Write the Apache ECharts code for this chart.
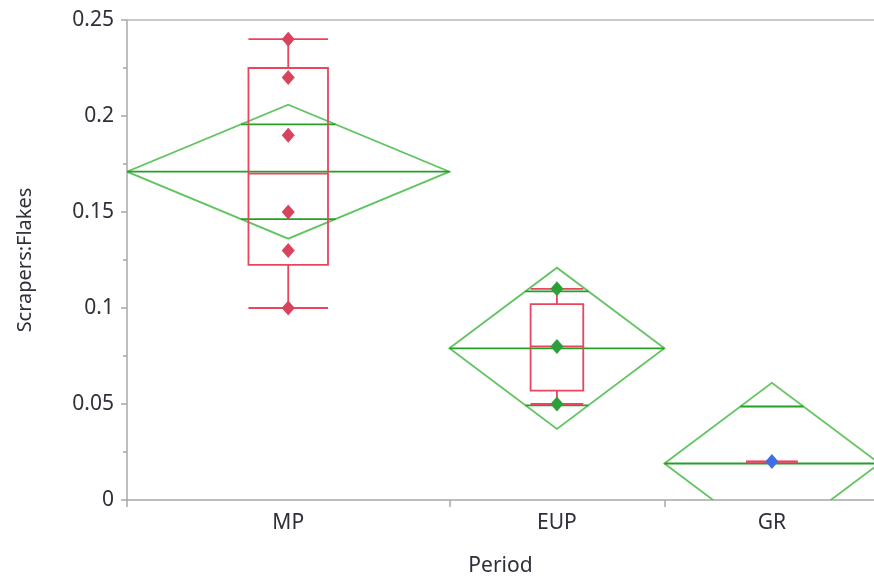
<!DOCTYPE html>
<html>
<head>
<meta charset="utf-8">
<script src="https://cdn.jsdelivr.net/npm/echarts@6/dist/echarts.min.js"></script>
<style>
  html, body { margin: 0; padding: 0; background: #ffffff; }
  #chart { width: 874px; height: 579px; }
</style>
</head>
<body>
<div id="chart"></div>
<script>
// Groups and their share of the horizontal axis
const categories = ['MP', 'EUP', 'GR'];
const groupWidths = [3, 2, 2];

// Observed ratios per period
const mpValues = [0.24, 0.22, 0.19, 0.15, 0.13, 0.10];
const eupValues = [0.11, 0.08, 0.05];
const grValues = [0.02];

// Means diamonds: group mean and half-width of the 95% interval
const groupMeans = [0.171, 0.079, 0.019];
const ciHalfWidths = [0.0349, 0.042, 0.042];

// Box plot summaries
const boxLow = [0.10, 0.05, 0.02];
const boxQ1 = [0.1225, 0.057, 0.02];
const boxMedian = [0.17, 0.08, 0.02];
const boxQ3 = [0.225, 0.102, 0.02];
const boxHigh = [0.24, 0.11, 0.02];
const boxWidths = [0.74, 0.49, 0.48];

// Y-axis ticks
const yTicks = { min: 0, max: 0.25, interval: 0.05 };

const pointColors = ['#d8435d', '#2e9e3a', '#3f6fe0'];
const boxColor = '#e8455f';
const diamondColor = '#62c462';
const meanColor = '#24a024';
const axisColor = '#a8a8a8';
const textColor = '#2f2f3a';
const fontFamily = '"Noto Sans", "Open Sans", sans-serif';

// Group boundaries and centres along the x axis
const starts = [];
const centers = [];
let acc = 0;
groupWidths.forEach(w => { starts.push(acc); centers.push(acc + w / 2); acc += w; });
const boundaries = starts.slice();

const diamondData = categories.map((c, i) => [starts[i], starts[i] + groupWidths[i], groupMeans[i], ciHalfWidths[i]]);
const boxData = categories.map((c, i) => [centers[i], boxLow[i], boxQ1[i], boxMedian[i], boxQ3[i], boxHigh[i], boxWidths[i]]);
const groupValues = [mpValues, eupValues, grValues];

function renderDiamond(params, api) {
  const x0 = api.value(0), x1 = api.value(1), m = api.value(2), h = api.value(3);
  const xc = (x0 + x1) / 2;
  const left = api.coord([x0, m]);
  const right = api.coord([x1, m]);
  const top = api.coord([xc, m + h]);
  const bottom = api.coord([xc, m - h]);
  const off = h / Math.SQRT2;
  // overlap marks end where they meet the diamond edges
  const frac = 1 - 1 / Math.SQRT2;
  const halfSpan = (x1 - x0) / 2 * frac;
  const upL = api.coord([xc - halfSpan, m + off]);
  const upR = api.coord([xc + halfSpan, m + off]);
  const loL = api.coord([xc - halfSpan, m - off]);
  const loR = api.coord([xc + halfSpan, m - off]);
  const cs = params.coordSys;
  return {
    type: 'group',
    clipPath: { type: 'rect', shape: { x: cs.x, y: cs.y, width: cs.width, height: cs.height } },
    children: [
      { type: 'polygon', shape: { points: [left, top, right, bottom] },
        style: { fill: null, stroke: diamondColor, lineWidth: 1.8 } },
      { type: 'line', shape: { x1: left[0], y1: left[1], x2: right[0], y2: right[1] },
        style: { stroke: meanColor, lineWidth: 1.8 } },
      { type: 'line', shape: { x1: upL[0], y1: upL[1], x2: upR[0], y2: upR[1] },
        style: { stroke: meanColor, lineWidth: 1.8 } },
      { type: 'line', shape: { x1: loL[0], y1: loL[1], x2: loR[0], y2: loR[1] },
        style: { stroke: meanColor, lineWidth: 1.8 } }
    ]
  };
}

function renderBox(params, api) {
  const xc = api.value(0), lo = api.value(1), q1 = api.value(2), med = api.value(3),
        q3 = api.value(4), hi = api.value(5), w = api.value(6);
  const l = xc - w / 2, r = xc + w / 2;
  const pLoL = api.coord([l, lo]), pLoR = api.coord([r, lo]);
  const pHiL = api.coord([l, hi]), pHiR = api.coord([r, hi]);
  const pQ1L = api.coord([l, q1]), pQ3R = api.coord([r, q3]);
  const pMedL = api.coord([l, med]), pMedR = api.coord([r, med]);
  const cLo = api.coord([xc, lo]), cQ1 = api.coord([xc, q1]);
  const cQ3 = api.coord([xc, q3]), cHi = api.coord([xc, hi]);
  const st = { stroke: boxColor, lineWidth: 1.8, fill: null };
  const children = [];
  if (q3 > q1) {
    children.push({ type: 'rect',
      shape: { x: pQ1L[0], y: pQ3R[1], width: pQ3R[0] - pQ1L[0], height: pQ1L[1] - pQ3R[1] },
      style: st });
    children.push({ type: 'line', shape: { x1: cQ3[0], y1: cQ3[1], x2: cHi[0], y2: cHi[1] }, style: st });
    children.push({ type: 'line', shape: { x1: cQ1[0], y1: cQ1[1], x2: cLo[0], y2: cLo[1] }, style: st });
  }
  children.push({ type: 'line', shape: { x1: pMedL[0], y1: pMedL[1], x2: pMedR[0], y2: pMedR[1] }, style: st });
  children.push({ type: 'line', shape: { x1: pHiL[0], y1: pHiL[1], x2: pHiR[0], y2: pHiR[1] }, style: st });
  children.push({ type: 'line', shape: { x1: pLoL[0], y1: pLoL[1], x2: pLoR[0], y2: pLoR[1] }, style: st });
  return { type: 'group', children };
}

const pointSeries = groupValues.map((vals, i) => ({
  type: 'scatter',
  symbol: 'diamond',
  symbolSize: [13, 15],
  z: 5,
  itemStyle: { color: pointColors[i], opacity: 1 },
  data: vals.map(v => [centers[i], v]),
  silent: true
}));

const chart = echarts.init(document.getElementById('chart'), null, { renderer: 'canvas' });
chart.setOption({
  animation: false,
  backgroundColor: '#ffffff',
  grid: { left: 127, right: 0, top: 20, bottom: 79, outerBoundsMode: 'none', containLabel: false },
  xAxis: [
    {
      type: 'value',
      min: 0,
      max: 6.95,
      position: 'bottom',
      axisLine: { show: true, lineStyle: { color: axisColor, width: 1.5 } },
      axisTick: { show: true, length: 7, customValues: boundaries, lineStyle: { color: axisColor, width: 1.5 } },
      axisLabel: {
        customValues: centers,
        formatter: v => {
          const idx = centers.findIndex(c => Math.abs(c - v) < 1e-6);
          return idx >= 0 ? categories[idx] : '';
        },
        color: textColor, fontSize: 21, fontFamily, margin: 13
      },
      splitLine: { show: false },
      name: 'Period',
      nameLocation: 'middle',
      nameGap: 56,
      nameTextStyle: { color: textColor, fontSize: 21, fontFamily }
    },
    {
      type: 'value',
      min: 0,
      max: 6.95,
      position: 'top',
      axisLine: { show: true, lineStyle: { color: '#b8b8b8', width: 1.5 } },
      axisTick: { show: false },
      axisLabel: { show: false },
      splitLine: { show: false }
    }
  ],
  yAxis: {
    type: 'value',
    min: yTicks.min,
    max: yTicks.max,
    interval: yTicks.interval,
    axisLine: { show: true, lineStyle: { color: axisColor, width: 1.5 } },
    axisTick: { show: true, length: 6, lineStyle: { color: axisColor, width: 1.5 } },
    minorTick: { show: true, splitNumber: 2, length: 4, lineStyle: { color: axisColor, width: 1.5 } },
    axisLabel: { color: textColor, fontSize: 21, fontFamily, margin: 13 },
    splitLine: { show: false },
    name: 'Scrapers:Flakes',
    nameLocation: 'middle',
    nameRotate: 90,
    nameGap: 92,
    nameTextStyle: { color: textColor, fontSize: 20, fontFamily }
  },
  series: [
    {
      type: 'custom',
      renderItem: renderDiamond,
      data: diamondData,
      clip: true,
      z: 2,
      silent: true
    },
    {
      type: 'custom',
      renderItem: renderBox,
      data: boxData,
      z: 3,
      silent: true
    }
  ].concat(pointSeries)
});
</script>
</body>
</html>
